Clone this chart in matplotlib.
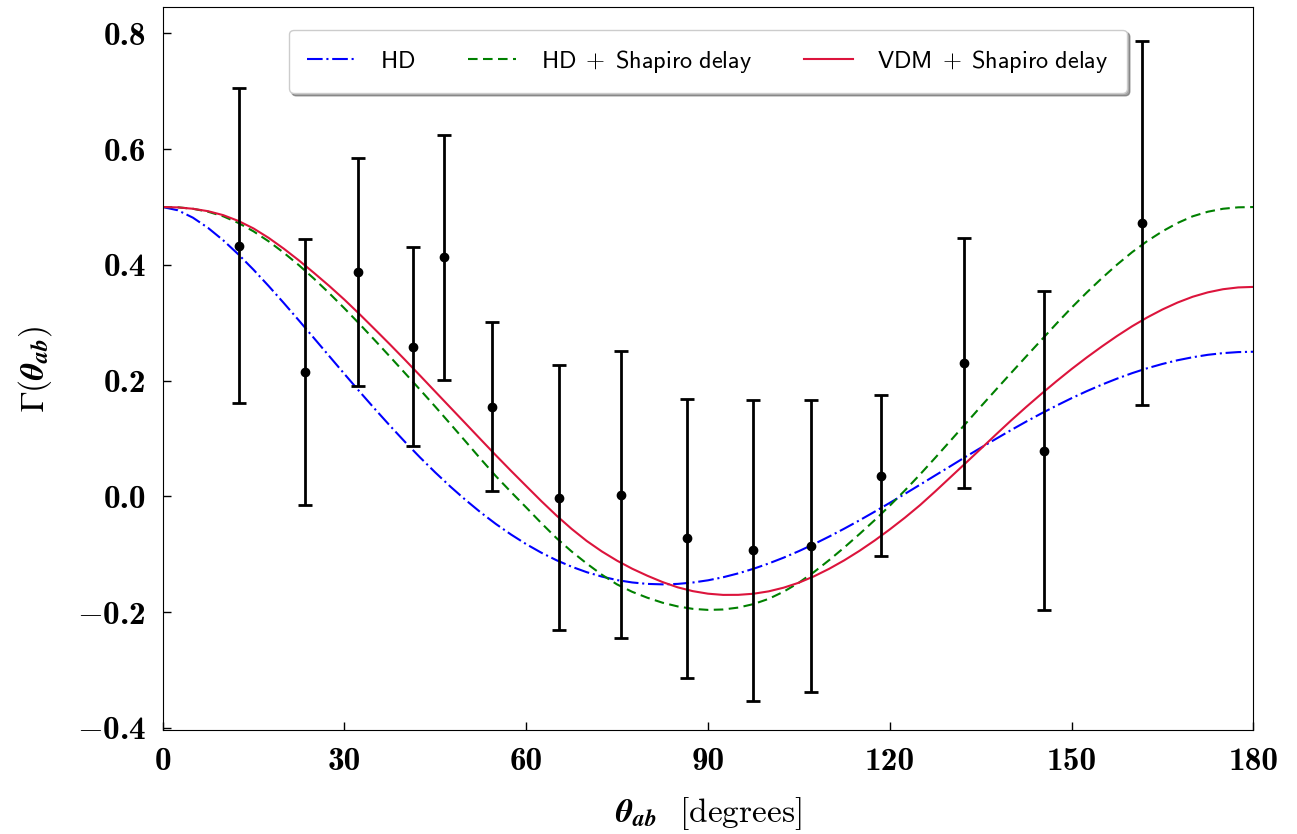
import matplotlib
matplotlib.use('Agg')

import numpy as np
import matplotlib.pyplot as plt
from matplotlib.ticker import FixedLocator

plt.rcParams['mathtext.fontset'] = 'cm'

# angulos de separacion (grados) donde se leyeron las curvas, cada 2.5 grados
theta = [i * 2.5 for i in range(73)]

# curvas
gamma_hd = [
    0.5000, 0.4944, 0.4816, 0.4639, 0.4425, 0.4182, 0.3917, 0.3635, 0.3341, 0.3039,
    0.2732, 0.2424, 0.2116, 0.1812, 0.1514, 0.1224, 0.0942, 0.0672, 0.0414, 0.0169,
    -0.0061, -0.0277, -0.0476, -0.0658, -0.0824, -0.0972, -0.1102, -0.1214, -0.1309, -0.1385,
    -0.1445, -0.1486, -0.1511, -0.1519, -0.1511, -0.1487, -0.1449, -0.1396, -0.1329, -0.1250,
    -0.1159, -0.1057, -0.0945, -0.0823, -0.0693, -0.0556, -0.0413, -0.0264, -0.0111, 0.0044,
    0.0203, 0.0363, 0.0522, 0.0683, 0.0839, 0.0993, 0.1145, 0.1292, 0.1433, 0.1568,
    0.1697, 0.1818, 0.1931, 0.2035, 0.2130, 0.2215, 0.2289, 0.2353, 0.2405, 0.2447,
    0.2476, 0.2494, 0.2500]
gamma_hd_shapiro = [
    0.500, 0.4995, 0.497, 0.4919, 0.484, 0.4725, 0.458, 0.4407, 0.421, 0.3994,
    0.376, 0.3511, 0.325, 0.2979, 0.270, 0.2417, 0.213, 0.1842, 0.155, 0.1251,
    0.095, 0.0646, 0.035, 0.0076, -0.019, -0.0461, -0.072, -0.0951, -0.116, -0.1353,
    -0.152, -0.1648, -0.175, -0.1836, -0.190, -0.1942, -0.196, -0.1953, -0.192, -0.186,
    -0.177, -0.1645, -0.149, -0.1306, -0.110, -0.0881, -0.065, -0.0411, -0.016, 0.0104,
    0.038, 0.0667, 0.096, 0.1255, 0.155, 0.1841, 0.213, 0.2416, 0.270, 0.2984,
    0.326, 0.3522, 0.377, 0.4004, 0.422, 0.4412, 0.458, 0.4724, 0.484, 0.4919,
    0.497, 0.4995, 0.500]
gamma_vdm_shapiro = [
    0.500, 0.4994, 0.497, 0.4928, 0.486, 0.476, 0.463, 0.4467, 0.428, 0.4077,
    0.386, 0.3636, 0.340, 0.3149, 0.289, 0.2628, 0.236, 0.2086, 0.181, 0.1535,
    0.126, 0.0984, 0.071, 0.0442, 0.018, -0.0081, -0.033, -0.0561, -0.077, -0.0951,
    -0.111, -0.1249, -0.137, -0.1479, -0.157, -0.1636, -0.168, -0.1701, -0.170, -0.1681,
    -0.164, -0.1576, -0.149, -0.138, -0.125, -0.1103, -0.094, -0.0762, -0.057, -0.0367,
    -0.015, 0.0086, 0.033, 0.0574, 0.082, 0.1067, 0.131, 0.1544, 0.177, 0.1989,
    0.220, 0.240, 0.259, 0.2771, 0.294, 0.3093, 0.323, 0.335, 0.345, 0.3526,
    0.358, 0.3611, 0.362]

# puntos con barras de error
theta_datos = [12.6, 23.5, 32.2, 41.3, 46.4, 54.3, 65.4, 75.6, 86.5, 97.4, 107.0,
               118.6, 132.3, 145.5, 161.7]
gamma_datos = [0.433, 0.215, 0.387, 0.259, 0.413, 0.155, -0.002, 0.003, -0.072,
               -0.093, -0.085, 0.036, 0.231, 0.079, 0.472]
error_datos = [0.272, 0.230, 0.197, 0.172, 0.211, 0.146, 0.229, 0.248, 0.241,
               0.260, 0.252, 0.139, 0.216, 0.276, 0.314]

xticks = [0, 30, 60, 90, 120, 150, 180]
yticks = [-0.4, -0.2, 0.0, 0.2, 0.4, 0.6, 0.8]


def etiqueta_y(v):
    # el signo menos en modo matematico, el numero en negrita (cmb10)
    if v < 0:
        return r'$-$' + '%.1f' % abs(v)
    return '%.1f' % v


fig = plt.figure(figsize=(12.97, 8.34), dpi=100)
ax = fig.add_axes([0.1254, 0.1247, 0.8409, 0.8665])

ax.plot(theta, gamma_hd, color='blue', lw=1.5, linestyle=(0, (7.5, 1.8, 1.0, 1.8)),
        label=r'$\mathsf{HD}$')
ax.plot(theta, gamma_hd_shapiro, color='green', lw=1.5, linestyle=(0, (4.6, 2.6)),
        label=r'$\mathsf{HD\;+\;Shapiro\ delay}$')
ax.plot(theta, gamma_vdm_shapiro, '-', color='crimson', lw=1.5,
        label=r'$\mathsf{VDM\;+\;Shapiro\ delay}$')

ax.errorbar(theta_datos, gamma_datos, yerr=error_datos, fmt='o', color='black',
            ms=6, elinewidth=2, capsize=5, capthick=2, zorder=5)

ax.set_xlim(0, 180)
ax.set_ylim(-0.4035, 0.845)
ax.xaxis.set_major_locator(FixedLocator(xticks))
ax.yaxis.set_major_locator(FixedLocator(yticks))
ax.set_xticklabels([str(v) for v in xticks], fontfamily='cmb10', fontsize=24)
ax.set_yticklabels([etiqueta_y(v) for v in yticks], fontfamily='cmb10', fontsize=24)
ax.tick_params(direction='in', length=6, width=1)
ax.tick_params(axis='x', pad=12)
ax.tick_params(axis='y', pad=12)

ax.set_xlabel(r'$\boldsymbol{\theta}_{\boldsymbol{ab}}$  [degrees]', fontfamily='cmr10',
              math_fontfamily='stix', fontsize=24, labelpad=14)
ax.set_ylabel(r'$\Gamma$($\boldsymbol{\theta}_{\boldsymbol{ab}}$)', fontfamily='cmr10',
              math_fontfamily='stix', fontsize=24, labelpad=16)

ax.legend(loc='upper center', ncol=3, fontsize=17.5, fancybox=True, shadow=True,
          framealpha=1, borderpad=0.75, handletextpad=1.0, columnspacing=2.16,
          bbox_to_anchor=(0.5, 0.986))

plt.savefig('out.png', dpi=100)
plt.close()
